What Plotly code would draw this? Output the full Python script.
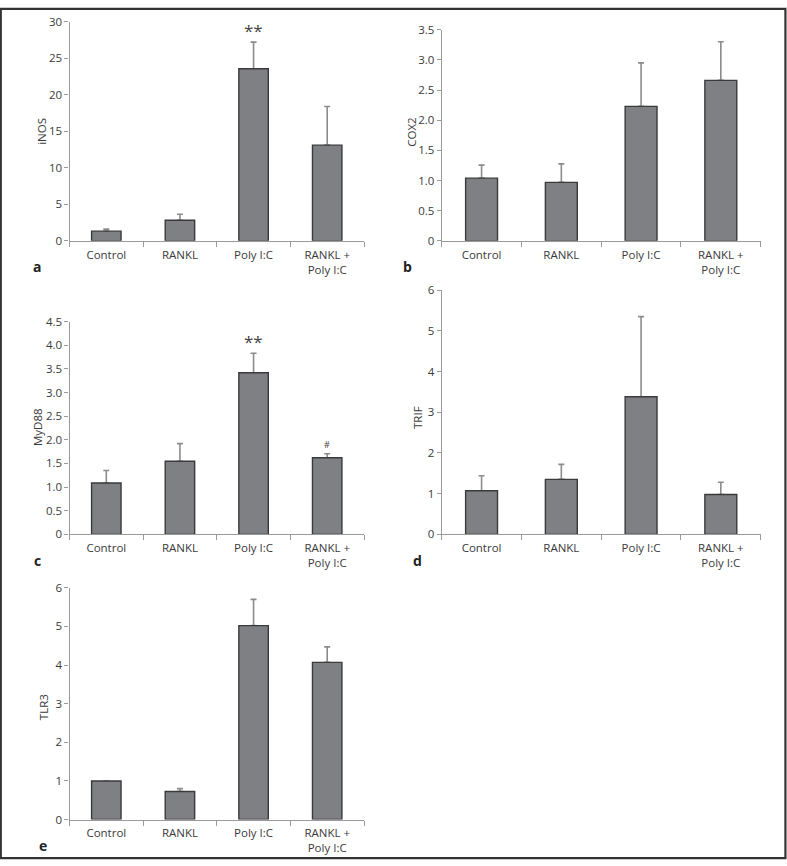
import plotly.graph_objects as go

W, H = 787, 866
# the photograph maps page y to picture y as 8.3 + 0.982 * y; positions below are picture pixels
Y0, YS = 8.3, 0.982

categories = ["Control", "RANKL", "Poly I:C", "RANKL +<br>Poly I:C"]

inos_vals = [1.33, 2.83, 23.56, 13.1]
inos_err = [0.27, 0.82, 3.64, 5.3]
cox2_vals = [1.04, 0.97, 2.23, 2.66]
cox2_err = [0.215, 0.307, 0.72, 0.64]
myd88_vals = [1.085, 1.545, 3.42, 1.62]
myd88_err = [0.265, 0.375, 0.41, 0.085]
trif_vals = [1.07, 1.35, 3.38, 0.98]
trif_err = [0.37, 0.37, 1.97, 0.30]
tlr3_vals = [1.0, 0.725, 5.02, 4.07]
tlr3_err = [0.0, 0.075, 0.68, 0.40]

inos_ticks = [0, 5, 10, 15, 20, 25, 30]
inos_ticktext = ["0", "5", "10", "15", "20", "25", "30"]
cox2_ticks = [0, 0.5, 1.0, 1.5, 2.0, 2.5, 3.0, 3.5]
cox2_ticktext = ["0", "0.5", "1.0", "1.5", "2.0", "2.5", "3.0", "3.5"]
myd88_ticks = [0, 0.5, 1.0, 1.5, 2.0, 2.5, 3.0, 3.5, 4.0, 4.5]
myd88_ticktext = ["0", "0.5", "1.0", "1.5", "2.0", "2.5", "3.0", "3.5", "4.0", "4.5"]
trif_ticks = [0, 1, 2, 3, 4, 5, 6]
trif_ticktext = ["0", "1", "2", "3", "4", "5", "6"]
tlr3_ticks = [0, 1, 2, 3, 4, 5, 6]
tlr3_ticktext = ["0", "1", "2", "3", "4", "5", "6"]

FONT = "Open Sans"
TXT = "#3a3a3a"
AXC = "#9a9a9a"
BARC = "#7f8084"
EDGE = "#3a3a3a"
ERRC = "#8c8c8c"

def px_x(p):
    return p / W

def px_y(p):
    return 1 - ((p - Y0) / YS) / H

panels = [
    ("iNOS", inos_vals, inos_err, 30, inos_ticks, inos_ticktext, 69.5, 364, 22, 241, (42, 132), "a", (37, 267)),
    ("COX2", cox2_vals, cox2_err, 3.5, cox2_ticks, cox2_ticktext, 441.7, 760.7, 30, 241, (412, 133), "b", (407, 267)),
    ("MyD88", myd88_vals, myd88_err, 4.5, myd88_ticks, myd88_ticktext, 69.5, 364, 321.7, 534.3, (38, 427), "c", (37, 560)),
    ("TRIF", trif_vals, trif_err, 6, trif_ticks, trif_ticktext, 441.7, 760.7, 290.3, 534.3, (418, 417), "d", (418, 560)),
    ("TLR3", tlr3_vals, tlr3_err, 6, tlr3_ticks, tlr3_ticktext, 69.5, 364, 587.7, 819.3, (43, 707), "e", (43, 845)),
]

fig = go.Figure()
annotations = []
layout = {}

for i, (name, vals, errs, ymax, ticks, ttext, x0, x1, yt, yz, tpos, letter, lpos) in enumerate(panels):
    n = i + 1
    xa = "x" if n == 1 else f"x{n}"
    ya = "y" if n == 1 else f"y{n}"
    fig.add_trace(go.Bar(
        x=categories, y=vals, xaxis=xa, yaxis=ya, width=0.4,
        marker=dict(color="rgba(0,0,0,0)", line=dict(width=0)),
        error_y=dict(type="data", array=errs, arrayminus=[0] * len(errs), symmetric=False,
                     color=ERRC, thickness=1.6, width=3),
        showlegend=False, hoverinfo="skip",
    ))
    fig.add_trace(go.Bar(
        x=categories, y=vals, xaxis=xa, yaxis=ya, width=0.4,
        marker=dict(color=BARC, line=dict(color=EDGE, width=1.4)),
        showlegend=False, name=name,
    ))
    xkey = "xaxis" if n == 1 else f"xaxis{n}"
    ykey = "yaxis" if n == 1 else f"yaxis{n}"
    layout[xkey] = dict(
        domain=[px_x(x0), px_x(x1)], anchor=ya, type="category",
        range=[-0.5, 3.5], showline=True, linecolor=AXC, linewidth=1.2,
        ticks="outside", tickson="boundaries", ticklen=5, tickcolor=AXC, tickwidth=1.2,
        ticklabelstandoff=3,
        showgrid=False, zeroline=False, fixedrange=True,
        tickfont=dict(family=FONT, size=11.5, color=TXT),
    )
    layout[ykey] = dict(
        domain=[px_y(yz), px_y(yt)], anchor=xa, range=[0, ymax],
        showline=True, linecolor=AXC, linewidth=1.2,
        ticks="outside", ticklen=4, tickcolor=AXC, tickwidth=1.2,
        tickvals=ticks, ticktext=ttext, showgrid=False, zeroline=False,
        tickfont=dict(family=FONT, size=11.5, color=TXT), fixedrange=True,
    )
    annotations.append(dict(
        text=name, x=px_x(tpos[0]), y=px_y(tpos[1]), xref="paper", yref="paper",
        textangle=-90, showarrow=False, xanchor="center", yanchor="middle",
        font=dict(family=FONT, size=11.5, color=TXT),
    ))
    annotations.append(dict(
        text=f"<b>{letter}</b>", x=px_x(lpos[0]), y=px_y(lpos[1]), xref="paper", yref="paper",
        showarrow=False, xanchor="center", yanchor="middle",
        font=dict(family=FONT, size=14, color="#222"),
    ))

annotations.append(dict(text="**", x="Poly I:C", y=inos_vals[2] + inos_err[2], xref="x", yref="y",
                        showarrow=False, yanchor="bottom", yshift=-2,
                        font=dict(family=FONT, size=17, color="#444")))
annotations.append(dict(text="**", x="Poly I:C", y=myd88_vals[2] + myd88_err[2], xref="x3", yref="y3",
                        showarrow=False, yanchor="bottom", yshift=-2,
                        font=dict(family=FONT, size=17, color="#444")))
annotations.append(dict(text="#", x="RANKL +<br>Poly I:C", y=myd88_vals[3] + myd88_err[3], xref="x3", yref="y3",
                        showarrow=False, yanchor="bottom", yshift=1,
                        font=dict(family=FONT, size=9, color="#444")))

fig.update_layout(
    width=W, height=H, margin=dict(l=0, r=0, t=0, b=0),
    paper_bgcolor="white", plot_bgcolor="white", barmode="overlay",
    annotations=annotations,
    shapes=[dict(type="rect", xref="paper", yref="paper", x0=0.001, y0=0.001, x1=0.998, y1=0.999,
                 line=dict(color="#333", width=2.2))],
    **layout,
)

post = (
    "document.documentElement.style.margin='0';"
    "document.body.style.margin='0';document.body.style.padding='0';"
    "document.body.style.overflow='hidden';"
    "var d=document.getElementById('{plot_id}');"
    "d.style.position='fixed';d.style.left='0px';d.style.top='0px';"
)

fig.write_html("out.html", config={"displayModeBar": False}, post_script=post)
